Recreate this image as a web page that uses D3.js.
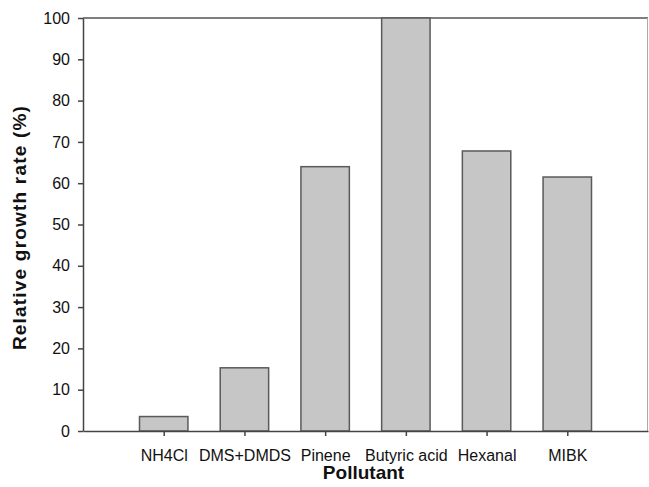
<!DOCTYPE html>
<html>
<head>
<meta charset="utf-8">
<script src="https://cdn.jsdelivr.net/npm/d3@7"></script>
<style>
  html, body { margin: 0; padding: 0; background: #fff; }
  svg { display: block; font-family: "Liberation Sans", Arial, sans-serif; }
</style>
</head>
<body>
<svg id="chart" width="649" height="487"></svg>
<script>
// Relative growth rate per pollutant
const categories = ["NH4Cl", "DMS+DMDS", "Pinene", "Butyric acid", "Hexanal", "MIBK"];
const growthRate = [3.5, 15.3, 64.0, 100, 67.8, 61.5];
const yTicks = [0, 10, 20, 30, 40, 50, 60, 70, 80, 90, 100];

const svg = d3.select("#chart");
const margin = { left: 83, right: 1, top: 18, bottom: 56 };
const W = 649, H = 487;

// categories sit at positions 1..n, with one empty slot at each end
const x = d3.scaleLinear().domain([0, categories.length + 1]).range([margin.left, W - margin.right]);
const y = d3.scaleLinear().domain([0, 100]).range([H - margin.bottom, margin.top]);
const step = x(1) - x(0);
const barW = step * 0.6;

// frame: top and right edges
svg.append("line")
  .attr("x1", x(0)).attr("x2", x.range()[1])
  .attr("y1", y(100)).attr("y2", y(100))
  .attr("stroke", "#555").attr("stroke-width", 1.5);
svg.append("line")
  .attr("x1", x.range()[1] - 0.5).attr("x2", x.range()[1] - 0.5)
  .attr("y1", y(100)).attr("y2", y(0))
  .attr("stroke", "#aaa").attr("stroke-width", 1);

// bars
svg.append("g").selectAll("rect")
  .data(growthRate)
  .join("rect")
  .attr("x", (d, i) => x(i + 1) - barW / 2)
  .attr("width", barW)
  .attr("y", d => y(d))
  .attr("height", d => y(0) - y(d))
  .attr("fill", "#c6c6c6")
  .attr("stroke", "#5a5a5a")
  .attr("stroke-width", 1.5);

// y axis
const yAxis = svg.append("g")
  .attr("transform", `translate(${margin.left},0)`)
  .call(d3.axisLeft(y).tickValues(yTicks).tickSize(5).tickSizeOuter(0).tickPadding(8));
yAxis.select(".domain").attr("stroke", "#444").attr("stroke-width", 1.5);
yAxis.selectAll(".tick line").attr("stroke", "#444").attr("stroke-width", 1.5);
yAxis.selectAll(".tick text").attr("font-size", 16).attr("fill", "#111")
  .attr("font-family", "Liberation Sans, Arial, sans-serif");

// x axis
const xAxis = svg.append("g")
  .attr("transform", `translate(0,${y(0)})`)
  .call(d3.axisBottom(x)
    .tickValues(d3.range(1, categories.length + 1))
    .tickFormat(i => categories[i - 1])
    .tickSize(5).tickSizeOuter(0).tickPadding(14));
xAxis.select(".domain").attr("stroke", "#444").attr("stroke-width", 1.5);
xAxis.selectAll(".tick line").attr("stroke", "#444").attr("stroke-width", 1.5);
xAxis.selectAll(".tick text").attr("font-size", 16).attr("fill", "#111")
  .attr("font-family", "Liberation Sans, Arial, sans-serif");

// axis titles
svg.append("text")
  .attr("x", (x.range()[0] + x.range()[1]) / 2 - 2)
  .attr("y", 479)
  .attr("text-anchor", "middle")
  .attr("font-size", 19).attr("font-weight", "bold").attr("fill", "#111")
  .text("Pollutant");

svg.append("text")
  .attr("transform", `translate(26,${(y(0) + y(100)) / 2 + 3}) rotate(-90)`)
  .attr("text-anchor", "middle")
  .attr("font-size", 19).attr("font-weight", "bold").attr("fill", "#111")
  .attr("letter-spacing", 1.2)
  .text("Relative growth rate (%)");
</script>
</body>
</html>
